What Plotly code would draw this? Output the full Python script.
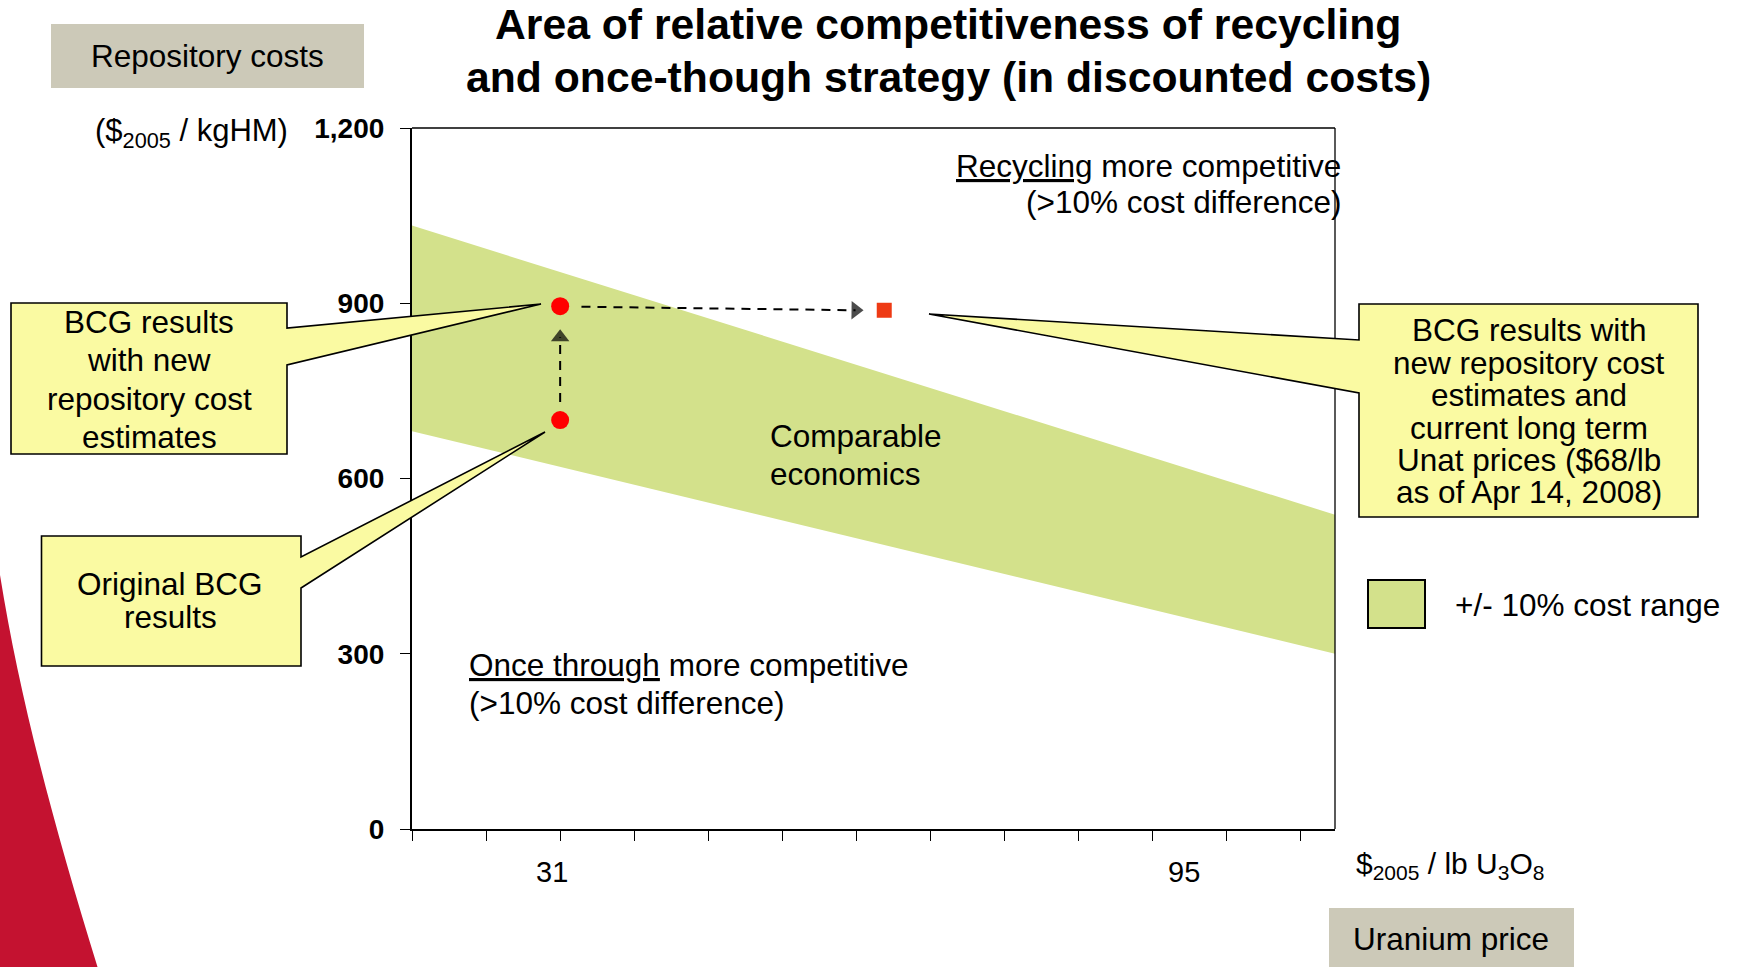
import plotly.graph_objects as go

# ---------------- data ----------------
band_x = [15, 114.68]          # uranium price axis span ($2005/lb)
band_upper = [1033, 538]       # +10% boundary (repository cost, $2005/kgHM)
band_lower = [681, 300]        # -10% boundary

orig_x = [31]
orig_y = [700]                 # Original BCG results
new_x = [31]
new_y = [895]                  # BCG results with new repository cost estimates
cur_x = [66]
cur_y = [888]                  # with current long-term Unat prices

vert_arrow_x = [31, 31]
vert_arrow_y = [731, 842]
horiz_arrow_x = [33.3, 62.9]
horiz_arrow_y = [894, 888]

y_tickvals = [0, 300, 600, 900, 1200]
y_ticktext = ["0", "300", "600", "900", "1,200"]
x_tickvals = list(range(15, 112, 8))
x_label_vals = [31, 95]
x_label_text = ["31", "95"]
x_label_shift = [-8, 31]

FONT = "Liberation Sans"
GREEN = "#D3E18B"
YELLOW = "#FAFAA2"
GRAY = "#CCC9B8"

# ---------------- layout helpers (pixel -> paper) ----------------
W, H = 1743, 967
L, R, T, B = 412, 1335, 128, 829


def px(x):
    return (x - L) / (R - L)


def py(y):
    return (B - y) / (B - T)


def path(points, close=True):
    s = "M " + " L ".join(f"{px(x):.5f},{py(y):.5f}" for x, y in points)
    return s + (" Z" if close else "")


fig = go.Figure()

# band
fig.add_trace(go.Scatter(
    x=band_x + band_x[::-1], y=band_upper + band_lower[::-1],
    fill="toself", fillcolor=GREEN, line=dict(width=0), mode="lines",
    name="+/- 10% cost range", showlegend=False, hoverinfo="skip"))

# dashed arrows
for ax_, ay_ in [(vert_arrow_x, vert_arrow_y), (horiz_arrow_x, horiz_arrow_y)]:
    fig.add_trace(go.Scatter(
        x=ax_, y=ay_, mode="lines+markers",
        line=dict(color="black", width=2, dash="9px,7px"),
        marker=dict(symbol="triangle-up", size=[0, 16], color="black",
                    angleref="previous", line=dict(width=0)),
        showlegend=False, hoverinfo="skip"))

# points
fig.add_trace(go.Scatter(x=orig_x + new_x, y=orig_y + new_y, mode="markers",
                         marker=dict(color="#FF0000", size=18, line=dict(width=0)),
                         showlegend=False))
fig.add_trace(go.Scatter(x=cur_x, y=cur_y, mode="markers",
                         marker=dict(color="#EE3A14", size=15, symbol="square",
                                     line=dict(width=0)),
                         showlegend=False))

shapes = []
# thin frame top/right
shapes.append(dict(type="line", xref="paper", yref="paper", x0=0, x1=1, y0=1, y1=1,
                   line=dict(color="black", width=1.3)))
shapes.append(dict(type="line", xref="paper", yref="paper", x0=1, x1=1, y0=0, y1=1,
                   line=dict(color="black", width=1.3)))

# callouts
callout_line = dict(color="black", width=1.6)
shapes.append(dict(type="path", xref="paper", yref="paper", fillcolor=YELLOW, line=callout_line,
                   path=path([(11, 303), (287, 303), (287, 328), (541, 304), (287, 365),
                              (287, 454), (11, 454)])))
shapes.append(dict(type="path", xref="paper", yref="paper", fillcolor=YELLOW, line=callout_line,
                   path=path([(41.5, 536), (301, 536), (301, 557), (545, 432), (301, 588),
                              (301, 666), (41.5, 666)])))
shapes.append(dict(type="path", xref="paper", yref="paper", fillcolor=YELLOW, line=callout_line,
                   path=path([(1359, 304), (1698, 304), (1698, 517), (1359, 517),
                              (1359, 393), (929, 314), (1359, 340)])))

# gray label boxes
shapes.append(dict(type="rect", xref="paper", yref="paper", fillcolor=GRAY, line=dict(width=0),
                   x0=px(51), x1=px(364), y0=py(24), y1=py(88)))
shapes.append(dict(type="rect", xref="paper", yref="paper", fillcolor=GRAY, line=dict(width=0),
                   x0=px(1329), x1=px(1574), y0=py(908), y1=py(975)))

# legend swatch
shapes.append(dict(type="rect", xref="paper", yref="paper", fillcolor=GREEN,
                   line=dict(color="black", width=2),
                   x0=px(1368), x1=px(1425), y0=py(580), y1=py(628)))

# red swoosh decoration
sw = (f"M {px(-5):.5f},{py(575):.5f} L {px(0):.5f},{py(575):.5f} "
      f"C {px(20):.5f},{py(700):.5f} {px(55):.5f},{py(830):.5f} {px(100):.5f},{py(975):.5f} "
      f"L {px(-5):.5f},{py(975):.5f} Z")
shapes.append(dict(type="path", xref="paper", yref="paper", fillcolor="#C41230",
                   line=dict(width=0), path=sw))

ann = []


def text(s, x, y, size=31.5, anchor="center", weight="normal"):
    ann.append(dict(text=s, x=px(x), y=py(y), xref="paper", yref="paper",
                    xanchor=anchor, yanchor="middle", showarrow=False,
                    font=dict(family=FONT, size=size, color="black", weight=weight)))


text("Area of relative competitiveness of recycling", 948, 24, size=42.7, weight="bold")
text("and once-though strategy (in discounted costs)", 948, 77, size=42.7, weight="bold")
text("Repository costs", 207, 56)
text("($<sub>2005</sub> / kgHM)", 93, 133, size=31, anchor="left")

for i, s in enumerate(["BCG results", "with new", "repository cost", "estimates"]):
    text(s, 149, 322 + i * 38.3)
for i, s in enumerate(["Original BCG", "results"]):
    text(s, 170, 584 + i * 33)
for i, s in enumerate(["BCG results with", "new repository cost", "estimates and",
                       "current long term", "Unat prices ($68/lb", "as of Apr 14, 2008)"]):
    text(s, 1529, 330 + i * 32.5)

text("<u>Recycling</u> more competitive", 1343, 166, anchor="right")
text("(>10% cost difference)", 1343, 202, anchor="right")
text("Comparable", 768, 436, anchor="left")
text("economics", 768, 474, anchor="left")
text("<u>Once through</u> more competitive", 467, 665, anchor="left")
text("(>10% cost difference)", 467, 703, anchor="left")
text("$<sub>2005</sub> / lb U<sub>3</sub>O<sub>8</sub>", 1354, 865, size=30, anchor="left")
text("Uranium price", 1451, 939)
text("+/- 10% cost range", 1453, 605, anchor="left")

for v, s, sh in zip(x_label_vals, x_label_text, x_label_shift):
    ann.append(dict(text=s, x=v, y=py(872), xref="x", yref="paper", xshift=sh,
                    xanchor="center", yanchor="middle", showarrow=False,
                    font=dict(family=FONT, size=29, color="black")))

fig.update_layout(
    width=W, height=H,
    margin=dict(l=L, r=W - R, t=T, b=H - B),
    paper_bgcolor="white", plot_bgcolor="white",
    showlegend=False,
    shapes=shapes, annotations=ann,
    xaxis=dict(range=[band_x[0], band_x[1]], tickvals=x_tickvals, showticklabels=False,
               ticks="outside", ticklen=10, tickwidth=1.2, tickcolor="black",
               showline=True, linecolor="black", linewidth=2.2, showgrid=False,
               zeroline=False, fixedrange=True),
    yaxis=dict(range=[0, 1200], tickvals=y_tickvals, ticktext=y_ticktext,
               ticks="outside", ticklen=10, tickwidth=1.2, tickcolor="black",
               tickfont=dict(family=FONT, size=28, color="black", weight="bold"),
               ticklabelstandoff=10,
               showline=True, linecolor="black", linewidth=2.2, showgrid=False,
               zeroline=False, fixedrange=True),
)

fig.write_html("out.html")
